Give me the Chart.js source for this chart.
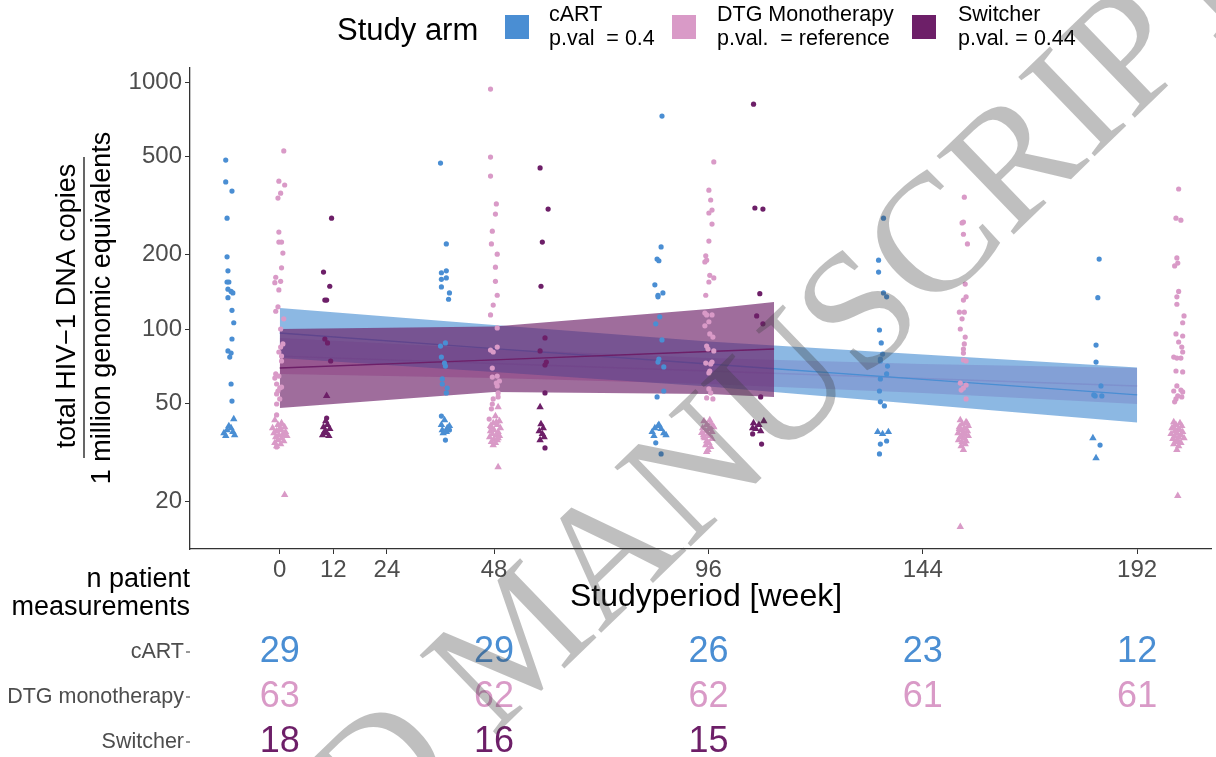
<!DOCTYPE html>
<html><head><meta charset="utf-8">
<script src="https://cdn.jsdelivr.net/npm/chart.js@4.4.1/dist/chart.umd.min.js"></script>
<style>html,body{margin:0;padding:0;background:#fff;}#wrap{width:1216px;height:757px;position:relative;}</style>
</head><body><div id="wrap"><canvas id="c" width="1216" height="757"></canvas></div>
<script>
// ---------- data ----------
const xTicks = [0, 12, 24, 48, 96, 144, 192];
const yTicks = [20, 50, 100, 200, 500, 1000];
const arms = ['cART', 'DTG Monotherapy', 'Switcher'];
const pvals = ['p.val  = 0.4', 'p.val.  = reference', 'p.val. = 0.44'];
const tableRows = ['cART', 'DTG monotherapy', 'Switcher'];
const tableWeeks = [0, 48, 96, 144, 192];
const nCart = [29, 29, 26, 23, 12];
const nDtg = [63, 62, 62, 61, 61];
const nSwitcher = [18, 16, 15, null, null];

// [week (as plotted, dodged/jittered), copies per 1e6]
const cartDetected = [
 [-12.1,483],[-12.1,394],[-10.7,362],[-11.8,281],[-11.8,196],[-11.6,172],[-11.8,155],[-11.4,155],[-11.6,145],[-10.9,142],[-10.5,140],[-11.6,134],[-10.7,119],[-10.3,106],[-10.7,91.1],[-11.6,81.5],[-10.9,79.9],[-11.2,77.0],[-10.9,59.9],[-10.7,51.1],
 [36.0,470],[37.3,221],[36.2,169],[37.3,172],[36.2,159],[37.3,161],[36.2,148],[38.0,140],[37.8,132],[36.0,85.3],[37.1,87.8],[36.2,77.0],[36.9,72.8],[37.1,70.8],[36.4,62.8],[36.4,59.9],[37.5,57.7],[37.3,55.1],[36.2,44.4],[38.0,39.0],[37.1,35.5],
 [85.6,728],[85.4,215],[84.5,192],[84.9,189],[84.0,151],[85.8,140],[84.7,137],[84.7,135],[85.1,112],[84.2,105],[85.6,90.3],[84.9,75.6],[84.7,73.5],[86.0,70.2],[86.0,56.1],[84.5,53.1],[84.2,34.6],[85.4,31.2],
 [135.2,281],[134.1,190],[134.1,170],[135.2,140],[135.9,135],[134.3,99.1],[134.7,87.8],[135.0,79.2],[134.5,75.6],[134.5,74.2],[136.1,70.8],[135.9,65.8],[134.5,62.8],[134.3,56.1],[134.5,50.7],[135.4,48.8],[135.9,35.2],[134.5,34.2],[134.3,31.2],
 [183.5,192],[183.2,134],[182.8,86.1],[182.8,73.5],[183.9,58.8],[182.3,54.1],[182.6,53.6],[184.1,53.6],[183.7,33.9]
];
const cartBelow = [
 [-12.5,37.9],[-11.8,39.0],[-10.9,39.7],[-10.3,43.2],[-10.1,37.2],[-11.4,40.5],[-10.5,38.3],[-12.1,36.9],
 [36.2,40.9],[36.9,42.8],[37.5,39.7],[36.4,39.0],[37.3,38.3],[38.0,40.5],[36.6,37.9],
 [83.4,38.3],[84.0,39.7],[84.7,40.5],[85.4,39.4],[86.0,37.9],[86.5,37.2],[83.8,36.9],[84.9,40.9],
 [133.9,38.3],[135.0,37.6],[136.3,38.3],
 [182.1,36.2],[182.8,30.0]
];
const dtgDetected = [
 [0.9,526],[-0.2,397],[1.1,383],[0.2,355],[-0.4,339],[-0.2,247],[-0.2,225],[0.4,225],[0.7,203],[0.4,177],[-0.9,162],[0.2,156],[-1.1,154],[-0.2,144],[-0.4,123],[-0.9,118],[0.9,110],[0.2,100],[0.7,87.0],[0.2,84.5],[-0.2,80.7],[0.4,77.7],[0.4,74.2],[-0.9,65.8],[-0.2,64.5],[-1.1,63.3],[-0.7,59.9],[0.4,58.2],[0,57.7],[-0.4,56.1],[-0.7,54.6],[0,52.1],[-0.7,49.7],[-0.7,44.9],[-0.7,33.3],
 [47.2,937],[47.2,497],[47.2,416],[48.5,321],[48.3,292],[47.6,249],[47.4,221],[48.7,201],[48.3,178],[48.3,156],[48.7,137],[47.8,125],[47.2,114],[48.7,101],[48.7,84.5],[47.2,82.2],[47.8,80.7],[47.6,69.5],[47.6,63.9],[48.7,64.5],[49.2,61.6],[48.5,60.4],[48.7,58.8],[48.9,55.1],[47.8,52.1],[48.9,53.1],[47.6,49.7],[47.4,47.5],[46.9,43.2],
 [97.2,475],[96.1,365],[96.5,333],[96.8,303],[96.1,295],[96.8,266],[96.1,227],[95.4,198],[95.6,190],[95.2,187],[96.3,165],[97.2,161],[96.1,155],[95.4,137],[95.2,116],[95.6,114],[96.8,114],[96.1,107],[95.2,103],[96.3,95.5],[97.0,92.8],[95.6,85.3],[95.9,83.0],[97.2,81.5],[95.4,72.8],[96.8,73.5],[96.5,72.2],[96.3,67.6],[96.1,66.4],[96.1,57.2],[96.5,55.1],[95.6,52.6],[97.0,52.1],
 [153.3,342],[153.1,271],[152.8,269],[153.1,242],[154.0,221],[153.5,152],[153.7,135],[153.1,131],[152.2,117],[153.3,117],[152.8,110],[152.4,100],[153.5,92.8],[153.3,87.0],[153.1,83.0],[153.1,79.9],[153.1,74.9],[153.7,74.2],[152.4,60.4],[153.7,59.3],[153.1,57.7],[152.6,56.6],[153.7,52.1],
 [201.3,369],[200.7,281],[201.8,276],[200.9,194],[201.1,185],[200.4,180],[201.3,142],[200.9,135],[200.9,126],[202.5,113],[202.2,106],[200.7,95.5],[202.2,93.7],[201.3,88.6],[202.0,84.5],[202.2,80.7],[200.2,77.0],[200.9,76.3],[201.8,76.3],[200.7,67.6],[202.2,67.0],[200.9,58.8],[200.2,56.1],[201.8,56.6],[202.2,55.6],[201.1,53.6],[202.0,53.1],[200.7,52.1],[200.4,50.7]
];
const dtgBelow = [
 [-1.1,42.8],[0.4,41.6],[-0.4,40.9],[1.1,40.1],[-1.6,39.7],[0.2,39.4],[-0.7,38.6],[1.3,38.3],[-1.3,37.9],[0.7,37.6],[-0.2,37.2],[1.6,36.9],[-0.9,36.5],[0.4,36.2],[-0.4,35.5],[0.9,35.2],[-1.1,34.6],[0.2,34.2],[-0.7,33.6],[0.4,41.2],[-0.2,39.0],[1.1,37.2],[1.1,21.3],
 [48.9,48.3],[48.3,44.4],[49.2,42.4],[47.8,41.6],[48.7,40.9],[47.4,40.1],[49.4,39.7],[48.0,39.0],[47.2,38.6],[48.9,38.3],[47.6,37.6],[48.5,37.2],[49.2,36.9],[47.0,36.5],[48.0,35.9],[48.7,35.5],[47.4,34.9],[48.3,34.6],[47.8,33.9],[48.9,36.2],[47.2,40.5],[48.5,42.0],[48.9,27.6],
 [95.0,42.4],[96.5,41.6],[95.6,40.9],[97.0,40.5],[94.7,39.7],[96.1,39.4],[95.4,38.6],[96.8,38.3],[95.9,37.6],[94.9,37.2],[96.3,36.9],[95.2,36.2],[96.8,35.9],[95.6,35.2],[96.1,34.6],[95.4,33.9],[96.5,33.3],[95.9,32.4],[97.2,40.1],[94.5,38.0],[96.3,42.8],[95.0,36.5],[95.6,31.8],
 [152.4,42.8],[153.7,42.0],[152.8,41.2],[154.2,40.5],[152.2,40.1],[153.3,39.7],[152.6,39.0],[154.0,38.6],[153.1,38.3],[151.9,37.9],[153.5,37.6],[152.8,37.2],[154.2,36.9],[152.4,36.5],[153.3,36.2],[152.0,35.5],[153.7,35.2],[152.8,34.9],[153.5,34.2],[152.6,33.6],[153.1,32.4],[152.2,39.4],[153.9,41.6],[152.4,15.8],
 [200.2,42.0],[201.6,41.6],[200.7,40.9],[202.0,40.5],[199.8,39.7],[201.3,39.4],[200.4,38.6],[202.2,38.3],[200.9,37.9],[199.6,37.6],[201.8,37.2],[200.4,36.9],[201.3,36.5],[202.5,36.2],[200.0,35.9],[201.1,35.5],[200.7,34.9],[201.8,34.6],[200.2,34.2],[201.3,33.6],[200.9,32.4],[201.6,39.0],[200.2,40.1],[201.1,21.1]
];
const switcherDetected = [
 [11.6,281],[9.8,170],[11.2,149],[10.1,131],[10.5,131],[10.1,91.1],[10.7,87.8],[11.4,74.2],[10.5,43.6],
 [58.3,449],[60.1,306],[58.8,225],[58.5,149],[59.4,92.0],[58.3,81.5],[59.7,73.5],[59.4,71.5],[59.4,55.1],[59.4,33.0],
 [106.1,814],[106.4,309],[108.2,306],[107.5,139],[106.8,113],[108.2,105],[107.7,53.1],[105.9,37.6],[107.9,34.2]
];
const switcherBelow = [
 [10.5,53.6],[10.3,42.4],[10.7,40.9],[9.8,40.1],[11.2,39.4],[10.1,38.6],[10.5,38.0],[9.6,37.2],[11.0,36.9],
 [58.3,48.3],[58.5,41.2],[59.0,39.7],[58.1,38.6],[58.8,37.6],[59.2,36.5],[58.3,35.5],
 [106.1,41.6],[107.3,40.9],[108.4,42.4],[106.6,39.4],[107.7,38.6],[105.9,39.7]
];

// fitted trends with 95% bands
const fitWeeks = [0, 48, 96, 144, 192];
const cartFit  = [96.3, 83.3, 72.2, 62.5, 54.1];
const cartLow  = [76.3, 67.0, 58.5, 49.5, 41.8];
const cartHigh = [121.6, 103.8, 89.0, 78.8, 69.9];
const dtgFit   = [77.7, 72.5, 67.6, 63.0, 58.8];
const dtgLow   = [65.8, 63.3, 59.9, 55.1, 49.7];
const dtgHigh  = [92.0, 83.0, 76.3, 72.2, 69.5];
const switcherWeeks = [0, 48, 96, 110.7];
const switcherFit  = [69.5, 75.0, 81.1, 83.0];
const switcherLow  = [47.9, 55.6, 54.6, 53.1];
const switcherHigh = [100, 102.3, 120.5, 128.6];

// ---------- styling ----------
const COL = {cart:'#4A8ED3', dtg:'#D99AC7', sw:'#6D1F68'};
const FILL = {cart:'rgba(70,140,210,0.62)', dtg:'rgba(216,153,198,0.62)', sw:'rgba(108,31,103,0.65)'};
const SANS = '"Liberation Sans", Arial, sans-serif';

const xy = a => a.map(([x, y]) => ({x, y}));
function pts(data, color, style, r) {
  return {type:'scatter', data:xy(data), backgroundColor:color, borderWidth:0, pointStyle:style, pointRadius:r, order:0};
}
function band(weeks, lo, hi, fit, fill, line, ord) {
  const mk = arr => weeks.map((w, i) => ({x:w, y:arr[i]}));
  return [
    {type:'line', data:mk(hi), borderColor:'rgba(0,0,0,0)', borderWidth:1, pointRadius:0, fill:false, order:ord},
    {type:'line', data:mk(lo), borderColor:'rgba(0,0,0,0)', borderWidth:1, pointRadius:0, fill:'-1', backgroundColor:fill, order:ord},
    {type:'line', data:mk(fit), borderColor:line, borderWidth:1.4, pointRadius:0, fill:false, order:ord - 1}
  ];
}
const datasets = [
  ...band(fitWeeks, dtgLow, dtgHigh, dtgFit, FILL.dtg, COL.dtg, 30),
  ...band(fitWeeks, cartLow, cartHigh, cartFit, FILL.cart, COL.cart, 20),
  ...band(switcherWeeks, switcherLow, switcherHigh, switcherFit, FILL.sw, COL.sw, 10),
  pts(cartDetected, COL.cart, 'circle', 2.6),
  pts(cartBelow, COL.cart, 'triangle', 4.3),
  pts(dtgDetected, COL.dtg, 'circle', 2.6),
  pts(dtgBelow, COL.dtg, 'triangle', 4.3),
  pts(switcherDetected, COL.sw, 'circle', 2.6),
  pts(switcherBelow, COL.sw, 'triangle', 4.3)
];

const deco = {
  id:'deco',
  afterDraw(chart) {
    const ctx = chart.ctx, xs = chart.scales.x;
    ctx.save();
    ctx.fillStyle = '#000';
    ctx.textBaseline = 'middle';
    // legend
    ctx.font = '31px ' + SANS; ctx.textAlign = 'left';
    ctx.fillText('Study arm', 337, 31);
    const sq = [505, 672, 912], tx = [549, 717, 958], cols = [COL.cart, COL.dtg, COL.sw];
    for (let i = 0; i < 3; i++) {
      ctx.fillStyle = cols[i]; ctx.fillRect(sq[i], 15, 24, 24);
      ctx.fillStyle = '#000'; ctx.font = '21.5px ' + SANS;
      ctx.fillText(arms[i], tx[i], 15);
      ctx.fillText(pvals[i], tx[i], 39);
    }
    // y title as fraction
    ctx.font = '27px ' + SANS; ctx.textAlign = 'center';
    ctx.save(); ctx.translate(68, 306); ctx.rotate(-Math.PI / 2); ctx.fillText('total HIV\u22121 DNA copies', 0, 0); ctx.restore();
    ctx.save(); ctx.translate(103, 308); ctx.rotate(-Math.PI / 2); ctx.fillText('1 million genomic equivalents', 0, 0); ctx.restore();
    ctx.strokeStyle = '#000'; ctx.lineWidth = 1.2;
    ctx.beginPath(); ctx.moveTo(84, 157); ctx.lineTo(84, 458); ctx.stroke();
    // x title
    ctx.font = '32px ' + SANS;
    ctx.fillText('Studyperiod [week]', 706, 597);
    // table
    ctx.textAlign = 'right'; ctx.font = '27px ' + SANS;
    ctx.fillText('n patient', 190, 580);
    ctx.fillText('measurements', 190, 608);
    const rowsY = [652, 697, 742], counts = [nCart, nDtg, nSwitcher];
    for (let r = 0; r < 3; r++) {
      ctx.textAlign = 'right'; ctx.font = '21.5px ' + SANS; ctx.fillStyle = '#4d4d4d';
      ctx.fillText(tableRows[r], 184, rowsY[r]);
      ctx.strokeStyle = '#333'; ctx.lineWidth = 1;
      ctx.beginPath(); ctx.moveTo(186, rowsY[r]); ctx.lineTo(190, rowsY[r]); ctx.stroke();
      ctx.textAlign = 'center'; ctx.font = '36px ' + SANS; ctx.fillStyle = cols[r];
      tableWeeks.forEach((w, i) => {
        if (counts[r][i] != null) ctx.fillText(String(counts[r][i]), xs.getPixelForValue(w), rowsY[r]);
      });
    }
    // watermark
    ctx.save();
    ctx.translate(524, 646); ctx.rotate(-44 * Math.PI / 180);
    ctx.font = '168px "Liberation Serif", "Times New Roman", serif';
    ctx.fillStyle = 'rgba(60,60,60,0.33)'; ctx.textAlign = 'center'; ctx.textBaseline = 'middle';
    ctx.fillText('ACCEPTED MANUSCRIPT', 0, 0);
    ctx.restore();
    ctx.restore();
  }
};

new Chart(document.getElementById('c'), {
  type:'scatter',
  data:{datasets},
  options:{
    responsive:false, animation:false, events:[],
    layout:{padding:{top:68, left:0, right:2, bottom:0}},
    plugins:{legend:{display:false}, tooltip:{enabled:false}},
    scales:{
      x:{type:'linear', min:-20.1, max:208.7,
        afterBuildTicks:s => { s.ticks = xTicks.map(v => ({value:v})); },
        afterFit:s => { s.height = 208; },
        grid:{display:true, drawOnChartArea:false, drawTicks:true, tickLength:5, color:'#333', tickColor:'#333'},
        border:{display:true, color:'#333', width:1.3},
        ticks:{color:'#4d4d4d', font:{family:SANS, size:24}, padding:2, maxRotation:0, autoSkip:false, callback:v => String(v)}},
      y:{type:'logarithmic', min:12.86, max:1140,
        afterBuildTicks:s => { s.ticks = yTicks.map(v => ({value:v})); },
        afterFit:s => { s.width = 190; },
        grid:{display:true, drawOnChartArea:false, drawTicks:true, tickLength:5, color:'#333', tickColor:'#333'},
        border:{display:true, color:'#333', width:1.3},
        ticks:{color:'#4d4d4d', font:{family:SANS, size:24}, padding:3, autoSkip:false, callback:v => String(v)}}
    }
  },
  plugins:[deco]
});
</script></body></html>
